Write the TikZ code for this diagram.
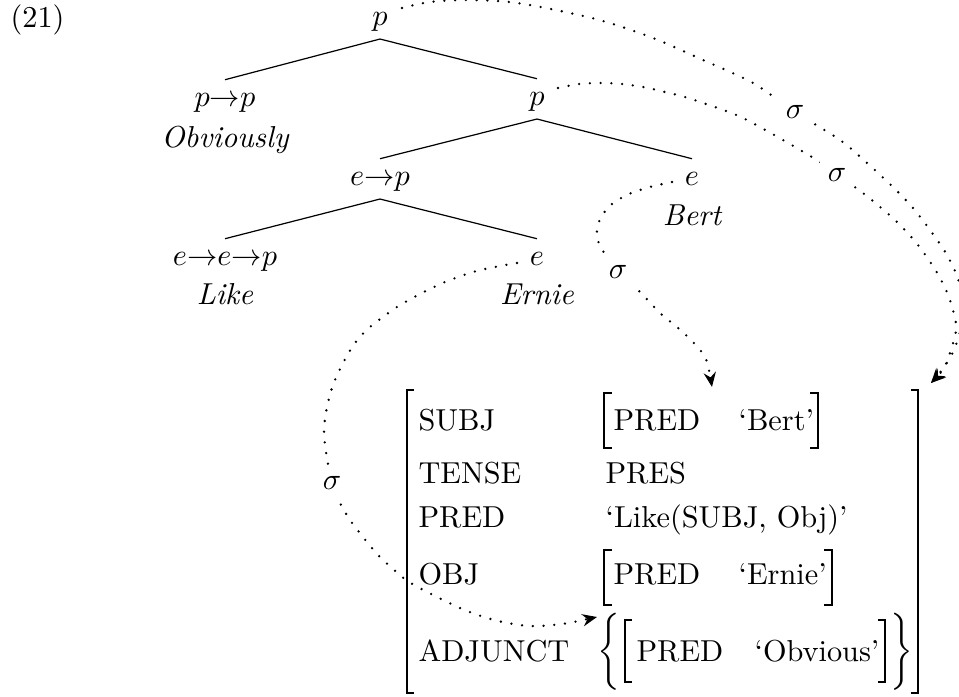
\documentclass[tikz,border=0pt]{standalone}
\usepackage{graphicx}
\usetikzlibrary{arrows.meta}
\begin{document}
\begin{tikzpicture}[x=0.33pt,y=-0.33pt,
  cat/.style={inner sep=0pt,text height=8.8pt,text depth=4.1pt,anchor=base},
  word/.style={inner sep=0pt,anchor=base,font=\itshape},
  edge/.style={line width=0.4pt},
  sig/.style={line width=0.85pt,dash pattern=on 0pt off 3.55pt,line cap=round,
    -{Stealth[length=4.8pt,width=4pt,inset=1.6pt]}},
  sigma/.style={fill=white,inner sep=2.5pt},
  lab/.style={inner sep=0pt,anchor=base west},
  brk/.style={line width=0.4pt},
  obrk/.style={line width=0.9pt}]
\useasboundingbox (0,0) rectangle (959,697);

% example number
\node[lab] (ex) at (10,28) {(21)};

% tree
\node[cat] (root) at (380,26) {$p$};
\node[cat] (pp) at (225,107) {$p{\to}p$};
\node[word] (obv) at (225,148) {Obviously};
\node[cat] (p2) at (537,106) {$p$};
\node[cat] (ep) at (380,186) {$e{\to}p$};
\node[cat] (eB) at (692,186) {$e$};
\node[word] (bert) at (692,226) {Bert};
\node[cat] (eep) at (225,266) {$e{\to}e{\to}p$};
\node[word] (like) at (225,305) {Like};
\node[cat] (eE) at (537,266) {$e$};
\node[word] (ernie) at (537,305) {Ernie};

\draw[edge] (root.south) -- (pp.north);
\draw[edge] (root.south) -- (p2.north);
\draw[edge] (p2.south) -- (ep.north);
\draw[edge] (p2.south) -- (eB.north);
\draw[edge] (ep.south) -- (eep.north);
\draw[edge] (ep.south) -- (eE.north);

% f-structure labels
\node[lab] (subj) at (418,431) {SUBJ};
\node[lab] (tense) at (418,484) {TENSE};
\node[lab] (predl) at (418,528) {PRED};
\node[lab] (obj) at (418,584) {OBJ};
\node[lab] (adj) at (418,661) {ADJUNCT};

% values
\node[lab] (bpred) at (613,431) {PRED};
\node[lab] (bval) at (738,431) {\textquoteleft Bert\textquoteright};
\node[lab] (pres) at (605,484) {PRES};
\node[lab] (likev) at (605,528) {\textquoteleft Like(SUBJ, Obj)\textquoteright};
\node[lab] (epred) at (613,584) {PRED};
\node[lab] (eval) at (738,584) {\textquoteleft Ernie\textquoteright};
\node[lab] (opred) at (636,661) {PRED};
\node[lab] (oval) at (754,661) {\textquoteleft Obvious\textquoteright};

% outer brackets
\draw[obrk] (414,390) -- (407,390) -- (407,693) -- (414,693);
\draw[obrk] (911,390) -- (918,390) -- (918,693) -- (911,693);
% inner brackets
\draw[brk] (612,393) -- (604,393) -- (604,448) -- (612,448);
\draw[brk] (810,393) -- (818,393) -- (818,448) -- (810,448);
\draw[brk] (612,550) -- (604,550) -- (604,605) -- (612,605);
\draw[brk] (824,550) -- (832,550) -- (832,605) -- (824,605);
\draw[brk] (632,620) -- (625,620) -- (625,682) -- (632,682);
\draw[brk] (878,620) -- (885,620) -- (885,682) -- (878,682);
% braces
\node[inner sep=0pt] (lbrace) at (609,651.5) {\scalebox{1}[1.06]{$\bigg\{$}};
\node[inner sep=0pt] (rbrace) at (902,651.5) {\scalebox{1}[1.06]{$\bigg\}$}};

% connector end points
\coordinate (a0) at (402,8);
\coordinate (b0) at (558,88);
\coordinate (c0) at (672,182);
\coordinate (d0) at (517,263);
\coordinate (tipF) at (931,383);
\coordinate (tipS) at (712,387);
\coordinate (tipO) at (597,617);

% sigma projections
\draw[sig] plot[smooth] coordinates {(a0) (430,2) (466,0) (509,2) (551,9) (603,21) (653,38)
  (703,60) (753,83) (795,112) (840,140) (867,163) (893,187) (913,208) (930,230)
  (947,255) (959,282) (963,315) (956,345) (945,366) (tipF)};
\draw[sig] plot[smooth] coordinates {(b0) (579,84) (601,83) (622,84) (643,87) (665,92)
  (685,97) (706,104) (726,111) (745,119) (783,140) (820,162) (837,175) (863,193)
  (896,221) (918,245) (936,271) (946,290) (953,310) (956,331) (945,366) (tipF)};
\draw[sig] plot[smooth] coordinates {(c0) (650,187) (629,194) (612,204) (601,217)
  (597,230) (598,241) (603,251) (618,272) (640,292) (660,313) (678,328) (693,342)
  (706,359) (tipS)};
\draw[sig] plot[smooth] coordinates {(d0) (495,267) (473,272) (445,282) (420,294)
  (397,307) (370,327) (355,343) (343,363) (333,385) (327,407) (324,430) (326,452)
  (332,483) (340,503) (350,520) (363,537) (378,555) (393,569) (409,582) (437,597)
  (467,611) (498,621) (530,626) (562,624) (tipO)};

\node[sigma] (s1) at (795,112) {$\sigma$};
\node[sigma] (s2) at (837,175) {$\sigma$};
\node[sigma] (s3) at (618,272) {$\sigma$};
\node[sigma] (s4) at (332,483) {$\sigma$};
\end{tikzpicture}
\end{document}
